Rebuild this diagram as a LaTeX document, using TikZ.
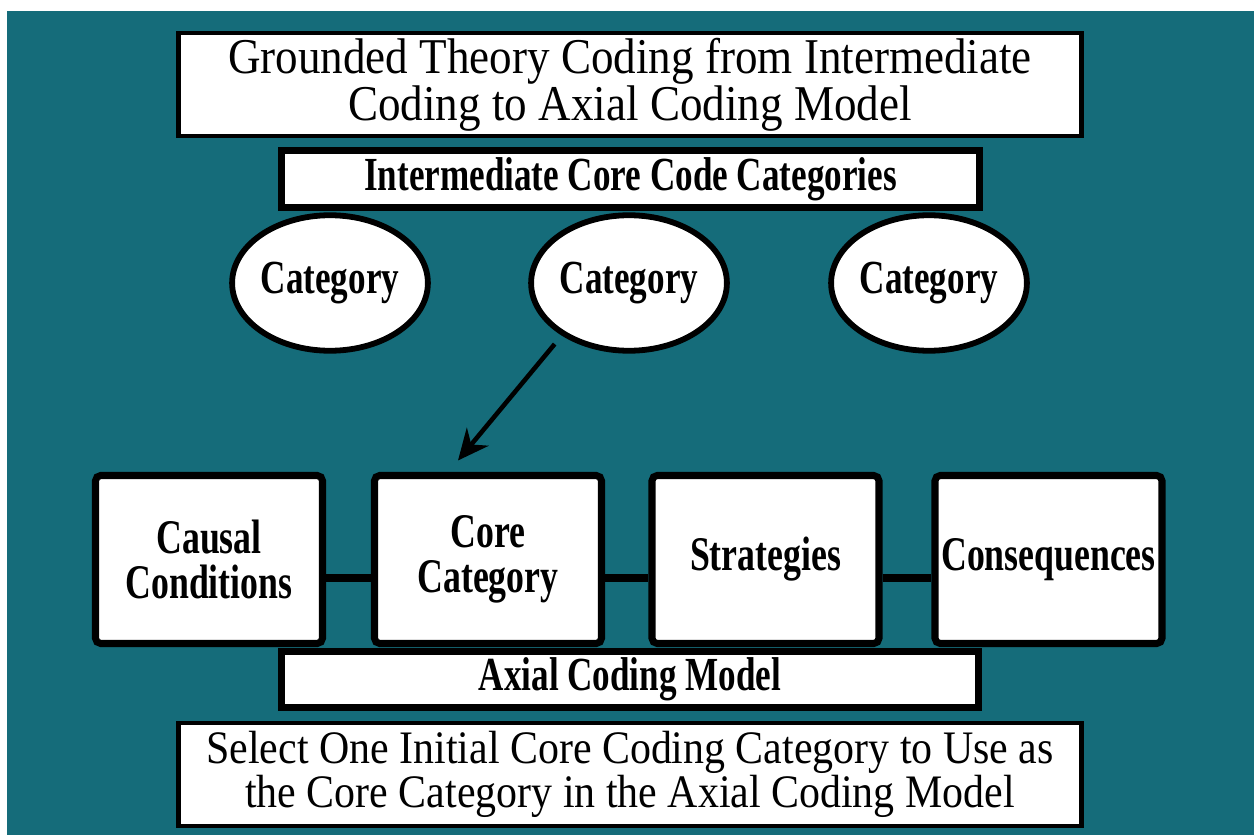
\documentclass[tikz,border=0pt]{standalone}
\usepackage{fontspec}
\setmainfont{Liberation Serif}
\newfontfamily\plainserif[FakeStretch=0.9]{Liberation Serif}
\newfontfamily\heavyserif[FakeStretch=0.74]{Liberation Serif Bold}
\usetikzlibrary{arrows.meta, shapes.geometric}
\definecolor{bgteal}{RGB}{21,108,122}
\tikzset{
    % Heading and footer
    notebox/.style={rectangle, draw=black, fill=white, line width=2.3pt,
                minimum width=18.06cm, minimum height=2.06cm, inner sep=0pt, align=center,
                font=\plainserif\fontsize{28.5}{24}\selectfont},
    % Section bands
    bandbox/.style={rectangle, draw=black, fill=white, line width=4pt,
                minimum width=13.95cm, minimum height=1.13cm, inner sep=0pt, align=center,
                font=\heavyserif\fontsize{27}{24}\selectfont},
    % Intermediate categories
    catnode/.style={ellipse, draw=black, fill=white, line width=3.3pt,
                minimum width=3.83cm, minimum height=2.71cm, inner sep=0pt,
                font=\heavyserif\fontsize{27}{24}\selectfont},
    % Axial model stages
    stagebox/.style={rectangle, rounded corners=3pt, draw=black, fill=white, line width=4pt,
                minimum width=4.54cm, minimum height=3.36cm, inner sep=0pt, align=center,
                font=\heavyserif\fontsize{27.5}{25.5}\selectfont},
    stagelink/.style={line width=4.5pt},
    catarrow/.style={-{Stealth[length=17.5pt, width=16pt]}, line width=2.6pt},
}

\begin{document}
\begin{tikzpicture}
\useasboundingbox (0,0) rectangle (25.08,16.7);
\fill[white] (0,0) rectangle (25.08,16.7);
\fill[bgteal] (0.14,0) rectangle (25.08,16.48);

% Heading
\node[notebox] (heading) at (12.6,15.01) {Grounded Theory Coding from Intermediate\\Coding to Axial Coding Model};

% Intermediate categories
\node[bandbox] (interm) at (12.61,13.12) {Intermediate Core Code Categories};
\node[catnode] (cat1) at (6.6,11.04)   {Category};
\node[catnode] (cat2) at (12.58,11.04) {Category};
\node[catnode] (cat3) at (18.58,11.04) {Category};

% Axial coding model
\node[stagebox] (cause)  at (4.18,5.51)  {Causal\\Conditions};
\node[stagebox] (core)   at (9.76,5.51)  {Core\\Category};
\node[stagebox] (strat)  at (15.31,5.51) {Strategies};
\node[stagebox] (conseq) at (20.97,5.51) {Consequences};

\draw[stagelink] ([yshift=-0.37cm]cause.east) -- ([yshift=-0.37cm]core.west);
\draw[stagelink] ([yshift=-0.37cm]core.east)  -- ([yshift=-0.37cm]strat.west);
\draw[stagelink] ([yshift=-0.37cm]strat.east) -- ([yshift=-0.37cm]conseq.west);

\node[bandbox] (axial) at (12.6,3.11) {Axial Coding Model};

% Footer
\node[notebox, font=\plainserif\fontsize{26.5}{20}\selectfont] (select) at (12.6,1.21)
    {Select One Initial Core Coding Category to Use as\\the Core Category in the Axial Coding Model};

% Chosen category
\draw[catarrow, shorten <=0.22cm] (cat2.218) -- ([xshift=-0.6cm, yshift=0.23cm]core.north);
\end{tikzpicture}
\end{document}
